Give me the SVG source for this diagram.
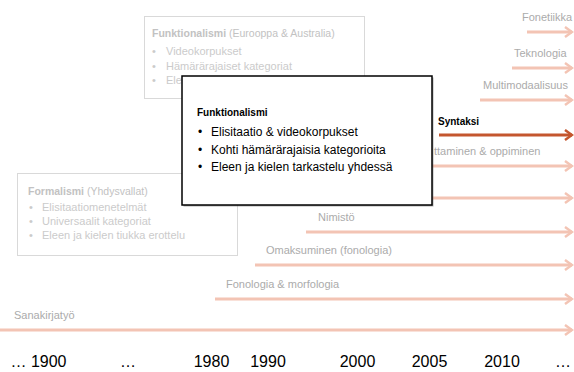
<svg xmlns="http://www.w3.org/2000/svg" width="574" height="372" viewBox="0 0 574 372">
<style>
.lbl{font-family:"Liberation Sans",Arial,sans-serif;font-size:11px;fill:#ababab}
.ln{stroke:#f3c4b4;stroke-width:3;fill:none}
.lnd{stroke:#c4562e;stroke-width:3;fill:none}
.fbox{fill:#fff;stroke:#d9d9d9;stroke-width:1}
.ft{font-family:"Liberation Sans",Arial,sans-serif;font-size:11px;fill:#cbcbcb}
.ftt{font-family:"Liberation Sans",Arial,sans-serif;font-size:10.5px;fill:#c2c2c2}
.mt{font-family:"Liberation Sans",Arial,sans-serif;font-size:12px;fill:#000}
.yr{font-family:"Liberation Sans",Arial,sans-serif;font-size:16px;fill:#000;text-anchor:middle}
</style>
<defs>
<marker id="ah" markerUnits="userSpaceOnUse" markerWidth="12" markerHeight="14" refX="8" refY="6" orient="auto" viewBox="0 0 12 14">
<path d="M1,1 L8,6 L1,11" fill="none" stroke="#f3c4b4" stroke-width="2.5"/>
</marker>
<marker id="ahd" markerUnits="userSpaceOnUse" markerWidth="12" markerHeight="14" refX="8" refY="6" orient="auto" viewBox="0 0 12 14">
<path d="M1,1 L8,6 L1,11" fill="none" stroke="#c4562e" stroke-width="2.5"/>
</marker>
</defs>
<g id="connectors">
<line class="ln" x1="527" y1="32" x2="572" y2="32" marker-end="url(#ah)"/>
<line class="ln" x1="512" y1="68" x2="572" y2="68" marker-end="url(#ah)"/>
<line class="ln" x1="480" y1="100" x2="572" y2="100" marker-end="url(#ah)"/>
<line class="lnd" x1="439" y1="135" x2="572" y2="135" marker-end="url(#ahd)"/>
<line class="ln" x1="300" y1="166" x2="572" y2="166" marker-end="url(#ah)"/>
<line class="ln" x1="300" y1="198" x2="572" y2="198" marker-end="url(#ah)"/>
<line class="ln" x1="306" y1="232" x2="572" y2="232" marker-end="url(#ah)"/>
<line class="ln" x1="255" y1="265" x2="572" y2="265" marker-end="url(#ah)"/>
<line class="ln" x1="215" y1="299" x2="572" y2="299" marker-end="url(#ah)"/>
<line class="ln" x1="0" y1="330" x2="572" y2="330" marker-end="url(#ah)"/>
</g>
<g id="labels">
<text class="lbl" x="522" y="21">Fonetiikka</text>
<text class="lbl" x="514" y="57">Teknologia</text>
<text class="lbl" x="483" y="89">Multimodaalisuus</text>
<text x="438" y="125" font-family="Liberation Sans, Arial, sans-serif" font-size="10px" font-weight="bold" fill="#000">Syntaksi</text>
<text class="lbl" x="434" y="155">ttaminen &amp; oppiminen</text>
<text class="lbl" x="318" y="221">Nimistö</text>
<text class="lbl" x="266" y="254">Omaksuminen (fonologia)</text>
<text class="lbl" x="226" y="288">Fonologia &amp; morfologia</text>
<text class="lbl" x="14" y="319">Sanakirjatyö</text>
</g>
<g id="funktionalismi-eu">
<rect class="fbox" x="144.5" y="16.5" width="220" height="82"/>
<text class="ftt" x="152" y="37"><tspan font-weight="bold">Funktionalismi</tspan> (Eurooppa &amp; Australia)</text>
<text class="ft" x="152" y="55">•</text><text class="ft" x="166" y="55">Videokorpukset</text>
<text class="ft" x="152" y="69.5">•</text><text class="ft" x="166" y="69.5">Hämärärajaiset kategoriat</text>
<text class="ft" x="152" y="84">•</text><text class="ft" x="166" y="84">Eleen ja kielen tarkastelu yhdessä</text>
</g>
<g id="formalismi">
<rect class="fbox" x="17.5" y="173.5" width="220" height="82"/>
<text class="ftt" x="28" y="195"><tspan font-weight="bold">Formalismi</tspan> (Yhdysvallat)</text>
<text class="ft" x="29" y="210.5">•</text><text class="ft" x="42" y="210.5">Elisitaatiomenetelmät</text>
<text class="ft" x="29" y="224.5">•</text><text class="ft" x="42" y="224.5">Universaalit kategoriat</text>
<text class="ft" x="29" y="238.5">•</text><text class="ft" x="42" y="238.5">Eleen ja kielen tiukka erottelu</text>
</g>
<g id="funktionalismi">
<rect x="183.5" y="77.5" width="250" height="129" fill="#666" opacity="0.5"/>
<rect x="182" y="76" width="250" height="129" fill="#fff" stroke="#000" stroke-width="1.5"/>
<text x="197" y="116" font-family="Liberation Sans, Arial, sans-serif" font-size="10px" font-weight="bold" fill="#000">Funktionalismi</text>
<text class="mt" x="198" y="136">•</text><text class="mt" x="211" y="136">Elisitaatio &amp; videokorpukset</text>
<text class="mt" x="198" y="153.5">•</text><text class="mt" x="211" y="153.5">Kohti hämärärajaisia kategorioita</text>
<text class="mt" x="198" y="171">•</text><text class="mt" x="211" y="171">Eleen ja kielen tarkastelu yhdessä</text>
</g>
<g id="years">
<text class="yr" x="38.5" y="367">… 1900</text>
<text class="yr" x="128" y="367">…</text>
<text class="yr" x="211.5" y="367">1980</text>
<text class="yr" x="268" y="367">1990</text>
<text class="yr" x="357.5" y="367">2000</text>
<text class="yr" x="429.5" y="367">2005</text>
<text class="yr" x="502" y="367">2010</text>
<text class="yr" x="563" y="367">…</text>
</g>
</svg>
